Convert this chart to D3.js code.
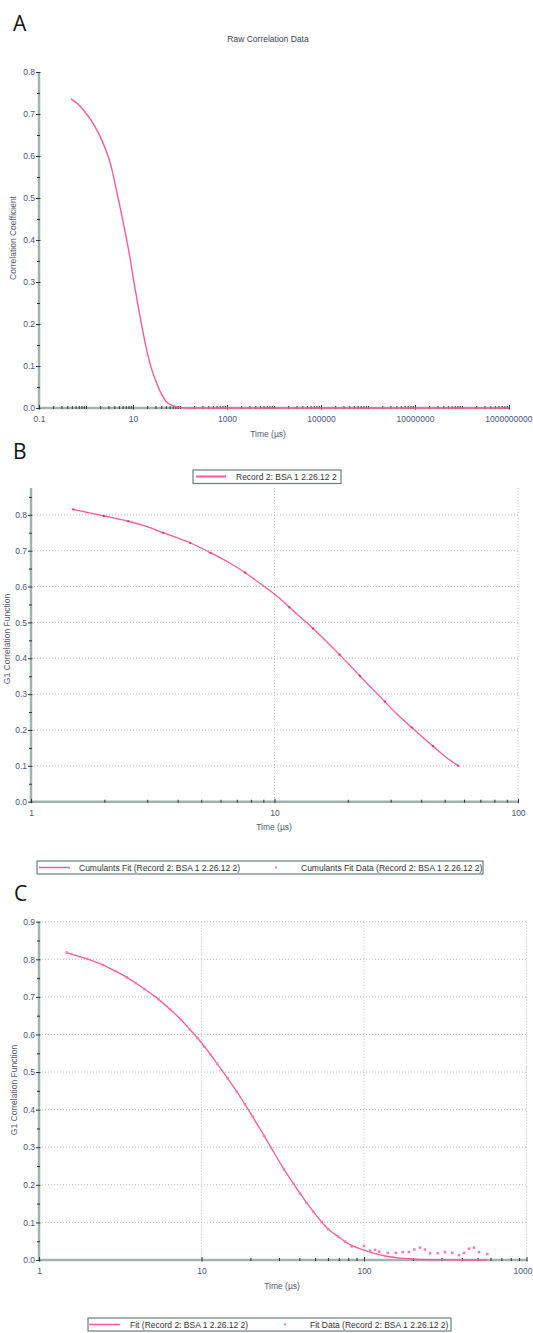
<!DOCTYPE html>
<html>
<head>
<meta charset="utf-8">
<script src="https://cdn.jsdelivr.net/npm/d3@7"></script>
<style>
  body { margin: 0; background: #fff; }
  svg { display: block; font-family: "Liberation Sans", Arial, sans-serif; }
</style>
</head>
<body>
<svg id="chart" width="533" height="1333"></svg>
<script>
// ---------- Panel A: raw correlation data ----------
const rawTime  = [0.48, 0.70, 1.03, 1.55, 2.2, 2.98, 3.7, 4.5, 5.5, 6.5, 7.5, 8.5, 10.1, 12, 14, 16.5, 19.6, 25, 32, 40, 52, 68, 85, 110, 150, 300, 1e3, 1e4, 1e5, 1e6, 1e7, 1e8, 1e9];
const rawValue = [0.736, 0.722, 0.700, 0.670, 0.636, 0.598, 0.560, 0.515, 0.470, 0.430, 0.395, 0.362, 0.310, 0.262, 0.220, 0.178, 0.138, 0.092, 0.059, 0.034, 0.014, 0.006, 0.003, 0.001, 0, 0, 0, 0, 0, 0, 0, 0, 0];
const aXTicks  = [0.1, 10, 1000, 100000, 10000000, 1000000000];
const aXLabels = ["0.1", "10", "1000", "100000", "10000000", "1000000000"];
const aYTicks  = [0, 0.1, 0.2, 0.3, 0.4, 0.5, 0.6, 0.7, 0.8];
const aYLabels = ["0.0", "0.1", "0.2", "0.3", "0.4", "0.5", "0.6", "0.7", "0.8"];
const aYMinor  = [0.05, 0.15, 0.25, 0.35, 0.45, 0.55, 0.65, 0.75];

// ---------- Panel B: cumulants fit ----------
const bFitTime  = [1.49, 1.99, 2.51, 3.0, 3.49, 4.5, 5.47, 6.5, 7.56, 9.29, 10.5, 11.5, 14.4, 18.5, 22.4, 26.3, 28.4, 32, 36.6, 44.7, 50, 56.9];
const bFitValue = [0.815, 0.797, 0.782, 0.767, 0.750, 0.722, 0.694, 0.667, 0.639, 0.595, 0.567, 0.542, 0.483, 0.410, 0.351, 0.302, 0.279, 0.243, 0.207, 0.155, 0.127, 0.100];
const bDataTime  = [1.49, 1.99, 2.51, 3.49, 4.5, 5.47, 7.56, 11.5, 14.4, 18.5, 22.4, 28.4, 36.6, 44.7, 56.9];
const bDataValue = [0.815, 0.797, 0.782, 0.750, 0.722, 0.694, 0.639, 0.542, 0.483, 0.410, 0.351, 0.279, 0.207, 0.155, 0.100];
const bXTicks  = [1, 10, 100];
const bXLabels = ["1", "10", "100"];
const bYTicks  = aYTicks;
const bYLabels = aYLabels;
const bYMinor  = [0.05, 0.15, 0.25, 0.35, 0.45, 0.55, 0.65, 0.75, 0.85];

// ---------- Panel C: fit ----------
const cFitTime  = [1.48, 1.98, 2.47, 2.94, 3.47, 3.94, 4.45, 5.42, 6.4, 7.48, 8.5, 9.48, 10.4, 11.4, 12.5, 14.5, 16.5, 18.5, 20.6, 24.3, 26.8, 32.2, 36.7, 40.4, 44.4, 48.7, 54.9, 60.3, 69.5, 76.4, 84, 100, 117, 138, 167, 211, 280, 400, 574];
const cFitValue = [0.818, 0.801, 0.785, 0.769, 0.752, 0.737, 0.721, 0.694, 0.667, 0.639, 0.613, 0.590, 0.568, 0.546, 0.522, 0.483, 0.448, 0.414, 0.382, 0.330, 0.299, 0.241, 0.204, 0.177, 0.152, 0.129, 0.101, 0.082, 0.062, 0.049, 0.039, 0.026, 0.017, 0.010, 0.005, 0.002, 0.0006, 0, 0];
const cDataTime  = [1.48, 1.98, 2.47, 2.94, 3.47, 3.94, 4.45, 5.42, 6.4, 7.48, 8.5, 9.48, 10.4, 11.4, 12.5, 14.5, 16.5, 18.5, 20.6, 24.3, 26.8, 32.2, 36.7, 40.4, 44.4, 48.7, 54.9, 60.3, 69.5, 76.4,
                    84, 100, 109, 117, 124, 140, 157, 173, 189, 204, 221, 237, 255, 284, 315, 349, 384, 412, 443, 475, 510, 574];
const cDataValue = [0.818, 0.801, 0.785, 0.769, 0.752, 0.737, 0.721, 0.694, 0.667, 0.639, 0.613, 0.590, 0.568, 0.546, 0.522, 0.483, 0.448, 0.414, 0.382, 0.330, 0.299, 0.241, 0.204, 0.177, 0.152, 0.129, 0.101, 0.082, 0.062, 0.049,
                    0.036, 0.037, 0.025, 0.027, 0.022, 0.019, 0.019, 0.021, 0.021, 0.028, 0.033, 0.028, 0.018, 0.018, 0.021, 0.019, 0.013, 0.019, 0.030, 0.033, 0.021, 0.016];
const cXTicks  = [1, 10, 100, 1000];
const cXLabels = ["1", "10", "100", "1000"];
const cYTicks  = [0, 0.1, 0.2, 0.3, 0.4, 0.5, 0.6, 0.7, 0.8, 0.9];
const cYLabels = ["0.0", "0.1", "0.2", "0.3", "0.4", "0.5", "0.6", "0.7", "0.8", "0.9"];
const cYMinor  = [0.05, 0.15, 0.25, 0.35, 0.45, 0.55, 0.65, 0.75, 0.85];

const recordName = "Record 2: BSA 1 2.26.12 2";

// ---------- styling ----------
const PINK = "#ff5a97";
const DOT = "#ff7aab";
const DOT_DARK = "#e8306e";
const AXIS = "#a2b2af";
const TICK = "#333";
const TICK_LABEL = "#4e5484";
const AXIS_TITLE = "#555b70";
const GRID = "#bcbcbc";
const FS = 8.5;
const W = 533;

const svg = d3.select("#chart");

// keep only the 1..9 multiples of each decade
function decadeMultiples(x) {
  return x.ticks(100).filter(v => {
    const m = v / Math.pow(10, Math.floor(Math.log10(v) + 1e-9));
    return Math.abs(m - Math.round(m)) < 1e-6;
  });
}

function drawPanel(cfg) {
  const g = svg.append("g");
  const x = cfg.x, y = cfg.y;
  const [x0, x1] = x.range();
  const yBase = y(0), yTop = y.range()[1];

  // dotted grid
  if (cfg.yGrid) {
    g.append("g").selectAll("line").data(cfg.yGrid).join("line")
      .attr("x1", x0).attr("x2", x1)
      .attr("y1", d => y(d)).attr("y2", d => y(d))
      .attr("stroke", GRID).attr("stroke-width", 1).attr("stroke-dasharray", "1,2");
  }
  if (cfg.xGrid) {
    g.append("g").selectAll("line").data(cfg.xGrid).join("line")
      .attr("x1", d => x(d)).attr("x2", d => x(d))
      .attr("y1", yTop).attr("y2", yBase)
      .attr("stroke", GRID).attr("stroke-width", 1).attr("stroke-dasharray", "1,2");
  }

  // axis lines
  g.append("line").attr("x1", x0 - 1).attr("x2", x1 + 1).attr("y1", yBase).attr("y2", yBase)
    .attr("stroke", AXIS).attr("stroke-width", 2.5);
  g.append("line").attr("x1", x0).attr("x2", x0).attr("y1", yTop).attr("y2", yBase + 1)
    .attr("stroke", AXIS).attr("stroke-width", 2.5);

  // y axis ticks and labels
  const yAx = g.append("g").attr("transform", `translate(${x0},0)`)
    .call(d3.axisLeft(y).tickValues(cfg.yTicks)
      .tickFormat(d => cfg.yLabels[cfg.yTicks.indexOf(d)]).tickSize(3).tickPadding(3));
  yAx.select(".domain").remove();
  yAx.selectAll(".tick line").attr("x1", 1.5).attr("x2", -3).attr("stroke", TICK);
  yAx.selectAll(".tick text").attr("x", -4).attr("fill", TICK_LABEL)
    .attr("font-size", FS).attr("font-family", null);
  const yMin = g.append("g").attr("transform", `translate(${x0},0)`)
    .call(d3.axisLeft(y).tickValues(cfg.yMinor).tickFormat("").tickSize(2));
  yMin.select(".domain").remove();
  yMin.selectAll(".tick line").attr("x1", 1).attr("x2", -2).attr("stroke", TICK);

  // x axis ticks and labels
  const xAx = g.append("g").attr("transform", `translate(0,${yBase})`)
    .call(d3.axisBottom(x).tickValues(cfg.xTicks)
      .tickFormat(d => cfg.xLabels[cfg.xTicks.indexOf(d)]).tickSize(3).tickPadding(5));
  xAx.select(".domain").remove();
  xAx.selectAll(".tick line").attr("y1", -3).attr("y2", 1.5).attr("stroke", TICK);
  xAx.selectAll(".tick text").attr("fill", TICK_LABEL)
    .attr("font-size", FS).attr("font-family", null)
    .each(function (d) {
      // a label that would run past the right edge is pulled back inside
      const el = d3.select(this);
      const half = this.getComputedTextLength() / 2;
      const over = x(d) + half - (W - 1);
      if (over > 0) el.attr("x", -over);
    });
  const minorX = decadeMultiples(x).filter(v => !cfg.xTicks.some(t => Math.abs(t - v) / t < 1e-9));
  const xMin = g.append("g").attr("transform", `translate(0,${yBase})`)
    .call(d3.axisBottom(x).tickValues(minorX).tickFormat("").tickSize(2));
  xMin.select(".domain").remove();
  xMin.selectAll(".tick line").attr("y1", -2).attr("y2", 1).attr("stroke", TICK);

  // axis titles
  g.append("text").attr("x", cfg.xTitle[0]).attr("y", cfg.xTitle[1])
    .attr("text-anchor", "middle").attr("font-size", FS).attr("fill", AXIS_TITLE)
    .text("Time (µs)");
  if (cfg.yTitle) {
    g.append("text")
      .attr("transform", `translate(${cfg.yTitle[1]},${cfg.yTitle[2]}) rotate(-90)`)
      .attr("text-anchor", "middle").attr("font-size", FS).attr("fill", AXIS_TITLE)
      .text(cfg.yTitle[0]);
  }
  return g;
}

function letter(t, xPos, yPos) {
  svg.append("text").attr("x", xPos).attr("y", yPos)
    .attr("font-family", "'Open Sans', 'DejaVu Sans', sans-serif")
    .attr("font-size", 21).attr("fill", "#111").text(t);
}

function drawLine(g, x, y, times, values, color, width) {
  const pts = times.map((t, i) => [x(t), y(values[i])]);
  g.append("path").datum(pts)
    .attr("d", d3.line().curve(d3.curveCatmullRom.alpha(0.5)))
    .attr("fill", "none").attr("stroke", color).attr("stroke-width", width)
    .attr("stroke-linejoin", "round");
}

function drawDots(g, x, y, times, values, color, size) {
  g.append("g").selectAll("rect").data(times).join("rect")
    .attr("x", (t) => x(t) - size / 2)
    .attr("y", (t, i) => y(values[i]) - size / 2)
    .attr("width", size).attr("height", size).attr("fill", color);
}

// ===== Panel A =====
letter("A", 13, 31);
svg.append("text").attr("x", 268).attr("y", 42).attr("text-anchor", "middle")
  .attr("font-size", FS).attr("fill", "#404455").text("Raw Correlation Data");
const xA = d3.scaleLog().domain([0.1, 1e9]).range([39, 509]);
const yA = d3.scaleLinear().domain([0, 0.8]).range([408, 72]);
const gA = drawPanel({
  x: xA, y: yA,
  yTicks: aYTicks, yLabels: aYLabels, yMinor: aYMinor,
  xTicks: aXTicks, xLabels: aXLabels,
  xTitle: [268, 437],
  yTitle: ["Correlation Coefficient", 16, 238]
});
drawLine(gA, xA, yA, rawTime, rawValue, PINK, 1.4);

// ===== Panel B =====
letter("B", 13, 459);
const xB = d3.scaleLog().domain([1, 100]).range([31, 518]);
const yB = d3.scaleLinear().domain([0, 0.875]).range([801.7, 487.9]);
const gB = drawPanel({
  x: xB, y: yB,
  yTicks: bYTicks, yLabels: bYLabels, yMinor: bYMinor,
  yGrid: [0.1, 0.2, 0.3, 0.4, 0.5, 0.6, 0.7, 0.8],
  xGrid: [10, 100],
  xTicks: bXTicks, xLabels: bXLabels,
  xTitle: [274, 830],
  yTitle: ["G1 Correlation Function", 10, 639]
});
drawLine(gB, xB, yB, bFitTime, bFitValue, PINK, 1.3);
drawDots(gB, xB, yB, bDataTime, bDataValue, DOT_DARK, 2);

// legend above panel B
const lgB = svg.append("g");
lgB.append("rect").attr("x", 193).attr("y", 470).attr("width", 148).attr("height", 13.5)
  .attr("fill", "#fff").attr("stroke", "#6f7d7d").attr("stroke-width", 1.2);
lgB.append("line").attr("x1", 196).attr("x2", 226).attr("y1", 476.5).attr("y2", 476.5)
  .attr("stroke", PINK).attr("stroke-width", 2);
lgB.append("text").attr("x", 236).attr("y", 480).attr("font-size", FS).attr("fill", "#333")
  .text(recordName);

// legend below panel B
const lgB2 = svg.append("g");
lgB2.append("rect").attr("x", 37).attr("y", 861).attr("width", 446).attr("height", 13)
  .attr("fill", "#fff").attr("stroke", "#6f7d7d").attr("stroke-width", 1.2);
lgB2.append("line").attr("x1", 39).attr("x2", 70).attr("y1", 867.5).attr("y2", 867.5)
  .attr("stroke", PINK).attr("stroke-width", 1.5);
lgB2.append("text").attr("x", 79).attr("y", 870.5).attr("font-size", FS).attr("fill", "#333")
  .text(`Cumulants Fit (${recordName})`);
lgB2.append("rect").attr("x", 275).attr("y", 866.5).attr("width", 2).attr("height", 2).attr("fill", DOT);
lgB2.append("text").attr("x", 301).attr("y", 870.5).attr("font-size", FS).attr("fill", "#333")
  .text(`Cumulants Fit Data (${recordName})`);

// ===== Panel C =====
letter("C", 14, 901);
const xC = d3.scaleLog().domain([1, 1000]).range([39, 526.5]);
const yC = d3.scaleLinear().domain([0, 0.9]).range([1260, 921.7]);
const gC = drawPanel({
  x: xC, y: yC,
  yTicks: cYTicks, yLabels: cYLabels, yMinor: cYMinor,
  yGrid: [0.1, 0.2, 0.3, 0.4, 0.5, 0.6, 0.7, 0.8, 0.9],
  xGrid: [10, 100, 1000],
  xTicks: cXTicks, xLabels: cXLabels,
  xTitle: [282, 1289],
  yTitle: ["G1 Correlation Function", 17, 1090]
});
drawLine(gC, xC, yC, cFitTime, cFitValue, PINK, 1.3);
drawDots(gC, xC, yC, cDataTime, cDataValue, DOT, 2.5);

// legend below panel C
const lgC = svg.append("g");
lgC.append("rect").attr("x", 88).attr("y", 1318).attr("width", 363).attr("height", 13)
  .attr("fill", "#fff").attr("stroke", "#6f7d7d").attr("stroke-width", 1.2);
lgC.append("line").attr("x1", 89).attr("x2", 120).attr("y1", 1324.5).attr("y2", 1324.5)
  .attr("stroke", PINK).attr("stroke-width", 1.5);
lgC.append("text").attr("x", 130).attr("y", 1327.5).attr("font-size", FS).attr("fill", "#333")
  .text(`Fit (${recordName})`);
lgC.append("rect").attr("x", 284).attr("y", 1323.5).attr("width", 2).attr("height", 2).attr("fill", DOT);
lgC.append("text").attr("x", 310).attr("y", 1327.5).attr("font-size", FS).attr("fill", "#333")
  .text(`Fit Data (${recordName})`);
</script>
</body>
</html>
